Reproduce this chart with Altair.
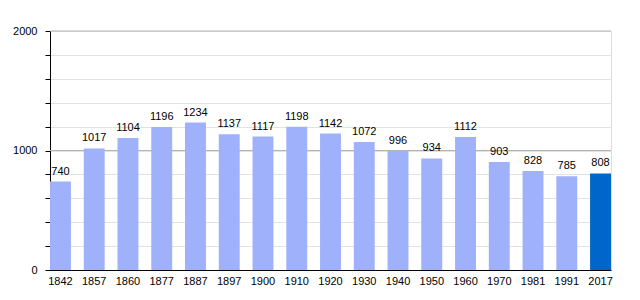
import altair as alt
import pandas as pd

years = ["1842", "1857", "1860", "1877", "1887", "1897", "1900", "1910", "1920",
         "1930", "1940", "1950", "1960", "1970", "1981", "1991", "2017"]
population = [740, 1017, 1104, 1196, 1234, 1137, 1117, 1198, 1142,
              1072, 996, 934, 1112, 903, 828, 785, 808]
highlight = [False] * 16 + [True]
major_grid = [1000, 2000]
y_ticks = [0, 200, 400, 600, 800, 1000, 1200, 1400, 1600, 1800, 2000]

df = pd.DataFrame({"year": years, "pop": population, "hl": highlight})
grid_df = pd.DataFrame({"v": major_grid})

FONT = "Liberation Sans"

y_scale = alt.Scale(domain=[0, 2000], nice=False)
y_axis = alt.Axis(values=y_ticks,
                  labelExpr="datum.value % 1000 == 0 ? datum.value : ''",
                  labelOverlap=False,
                  gridColor="#e2e2e2", tickColor="black", tickSize=5,
                  domainColor="black", labelFontSize=11, labelColor="black",
                  labelPadding=8, labelFont=FONT)

x = alt.X("year:N", sort=years, title=None,
          scale=alt.Scale(paddingInner=0.38, paddingOuter=0),
          axis=alt.Axis(labelAngle=0, ticks=False, domainColor="black",
                        labelFontSize=11, labelColor="black", labelPadding=5,
                        labelFont=FONT, labelOverlap=False))

grid = alt.Chart(grid_df).mark_rule(color="#b4b4b4", strokeWidth=1).encode(
    y=alt.Y("v:Q", title=None, scale=y_scale, axis=y_axis))

bars = alt.Chart(df).mark_bar().encode(
    x=x, y=alt.Y("pop:Q", title=None, scale=y_scale, axis=y_axis),
    color=alt.Color("hl:N", scale=alt.Scale(domain=[False, True], range=["#a0b1fc", "#0066cc"]), legend=None))

labels = alt.Chart(df).mark_text(dy=-10, fontSize=11, font=FONT, color="black").encode(
    x=alt.X("year:N", sort=years),
    y=alt.Y("pop:Q", title=None, scale=y_scale, axis=y_axis),
    text="pop:Q")

chart = alt.layer(grid, bars, labels).properties(
    width=561, height=239,
    autosize=alt.AutoSizeParams(type="none"),
    padding={"left": 50, "top": 31, "right": 29, "bottom": 30},
).configure_view(stroke=None).configure(background="white")

chart.save("out.html", embed_options={"renderer": "svg", "actions": False})
